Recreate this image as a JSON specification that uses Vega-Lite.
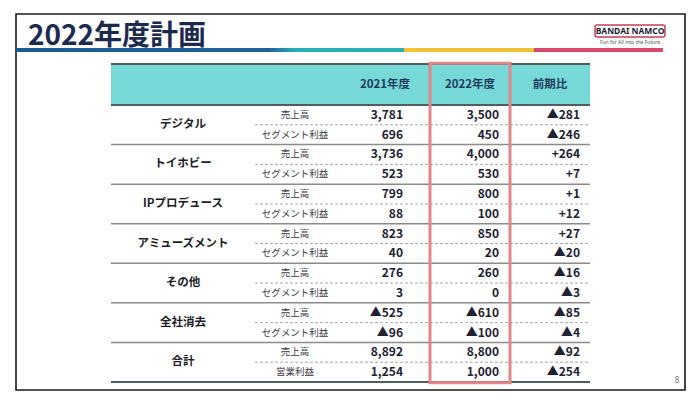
{
  "$schema": "https://vega.github.io/schema/vega-lite/v6.json",
  "width": 669,
  "height": 376,
  "padding": {"left": 16, "top": 14, "right": 15, "bottom": 15},
  "autosize": {"type": "none"},
  "background": "white",
  "config": {
    "view": {"stroke": "#1a1a1a", "strokeWidth": 1.6},
    "font": "Noto Sans CJK JP",
    "text": {"font": "Noto Sans CJK JP"}
  },
  "title": {
    "text": "2022年度計画",
    "anchor": "start",
    "frame": "group",
    "orient": "top",
    "offset": -59,
    "dx": 12,
    "fontSize": 28,
    "fontWeight": "bold",
    "color": "#1b2a4e",
    "font": "Noto Sans CJK JP",
    "baseline": "alphabetic"
  },
  "datasets": {
    "table": [
      {"row": 1, "segment": "デジタル", "item": "売上高", "fy2021": "3,781", "fy2022": "3,500", "yoy": "▲281"},
      {"row": 2, "segment": "デジタル", "item": "セグメント利益", "fy2021": "696", "fy2022": "450", "yoy": "▲246"},
      {"row": 3, "segment": "トイホビー", "item": "売上高", "fy2021": "3,736", "fy2022": "4,000", "yoy": "+264"},
      {"row": 4, "segment": "トイホビー", "item": "セグメント利益", "fy2021": "523", "fy2022": "530", "yoy": "+7"},
      {"row": 5, "segment": "IPプロデュース", "item": "売上高", "fy2021": "799", "fy2022": "800", "yoy": "+1"},
      {"row": 6, "segment": "IPプロデュース", "item": "セグメント利益", "fy2021": "88", "fy2022": "100", "yoy": "+12"},
      {"row": 7, "segment": "アミューズメント", "item": "売上高", "fy2021": "823", "fy2022": "850", "yoy": "+27"},
      {"row": 8, "segment": "アミューズメント", "item": "セグメント利益", "fy2021": "40", "fy2022": "20", "yoy": "▲20"},
      {"row": 9, "segment": "その他", "item": "売上高", "fy2021": "276", "fy2022": "260", "yoy": "▲16"},
      {"row": 10, "segment": "その他", "item": "セグメント利益", "fy2021": "3", "fy2022": "0", "yoy": "▲3"},
      {"row": 11, "segment": "全社消去", "item": "売上高", "fy2021": "▲525", "fy2022": "▲610", "yoy": "▲85"},
      {"row": 12, "segment": "全社消去", "item": "セグメント利益", "fy2021": "▲96", "fy2022": "▲100", "yoy": "▲4"},
      {"row": 13, "segment": "合計", "item": "売上高", "fy2021": "8,892", "fy2022": "8,800", "yoy": "▲92"},
      {"row": 14, "segment": "合計", "item": "営業利益", "fy2021": "1,254", "fy2022": "1,000", "yoy": "▲254"}
    ],
    "lines": [
      {"y": -0.5, "kind": "header"},
      {"y": 0.5, "kind": "header"},
      {"y": 1.5, "kind": "dash"},
      {"y": 2.5, "kind": "group"},
      {"y": 3.5, "kind": "dash"},
      {"y": 4.5, "kind": "group"},
      {"y": 5.5, "kind": "dash"},
      {"y": 6.5, "kind": "group"},
      {"y": 7.5, "kind": "dash"},
      {"y": 8.5, "kind": "group"},
      {"y": 9.5, "kind": "dash"},
      {"y": 10.5, "kind": "group"},
      {"y": 11.5, "kind": "dash"},
      {"y": 12.5, "kind": "group"},
      {"y": 13.5, "kind": "dash"},
      {"y": 14.5, "kind": "bottom"}
    ],
    "headers": [
      {"label": "2021年度", "col": 3.5},
      {"label": "2022年度", "col": 5.5},
      {"label": "前期比", "col": 6.5}
    ]
  },
  "data": {"name": "table"},
  "layer": [
    {
      "data": {"values": [{}]},
      "mark": {
        "type": "rect",
        "fill": {
          "gradient": "linear", "x1": 0, "y1": 0, "x2": 1, "y2": 0,
          "stops": [
            {"offset": 0, "color": "#1d5a92"},
            {"offset": 0.39, "color": "#1f6199"},
            {"offset": 0.43, "color": "#26adb5"},
            {"offset": 0.6, "color": "#29b0b6"},
            {"offset": 0.6, "color": "#f1c232"},
            {"offset": 0.8, "color": "#f1c232"},
            {"offset": 0.8, "color": "#d4496d"},
            {"offset": 1, "color": "#d4496d"}
          ]
        }
      },
      "encoding": {
        "x": {"datum": -1, "type": "quantitative", "axis": null, "scale": {"type": "linear", "domain": [-1, 0, 1, 2, 3, 4, 5, 6, 7, 8], "range": [0, 95, 239, 319, 341, 397, 414, 494, 574, 669], "nice": false, "zero": false}},
        "x2": {"datum": 7.768},
        "y": {"datum": -1.556, "type": "quantitative", "axis": null, "scale": {"type": "linear", "domain": [-2.5, -1.5, -0.5, 0.5, 14.5, 15.5], "range": [0, 36, 50, 91, 368, 376], "nice": false, "zero": false}},
        "y2": {"datum": -1.357}
      }
    },
    {
      "data": {"values": [{}]},
      "mark": {"type": "rect", "fill": "#76d8d7"},
      "encoding": {
        "x": {"datum": 0, "type": "quantitative"},
        "x2": {"datum": 7},
        "y": {"datum": -0.5, "type": "quantitative"},
        "y2": {"datum": 0.5}
      }
    },
    {
      "data": {"name": "lines"},
      "transform": [{"filter": "datum.kind == 'dash'"}],
      "mark": {"type": "rule", "stroke": "#a8a8a8", "strokeWidth": 1, "strokeDash": [3, 2]},
      "encoding": {
        "x": {"datum": 1, "type": "quantitative"},
        "x2": {"datum": 7},
        "y": {"field": "y", "type": "quantitative"}
      }
    },
    {
      "data": {"name": "lines"},
      "transform": [{"filter": "datum.kind == 'group'"}],
      "mark": {"type": "rule", "stroke": "#8c8c8c", "strokeWidth": 1.5},
      "encoding": {
        "x": {"datum": 0, "type": "quantitative"},
        "x2": {"datum": 7},
        "y": {"field": "y", "type": "quantitative"}
      }
    },
    {
      "data": {"name": "lines"},
      "transform": [{"filter": "datum.kind == 'header' || datum.kind == 'bottom'"}],
      "mark": {"type": "rule", "stroke": "#4f5d5d", "strokeWidth": 2},
      "encoding": {
        "x": {"datum": 0, "type": "quantitative"},
        "x2": {"datum": 7},
        "y": {"field": "y", "type": "quantitative"}
      }
    },
    {
      "data": {"name": "headers"},
      "mark": {"type": "text", "fontSize": 11.5, "fontWeight": "bold", "color": "#1f3a5c", "baseline": "middle", "align": "center"},
      "encoding": {
        "x": {"field": "col", "type": "quantitative"},
        "y": {"datum": 0, "type": "quantitative"},
        "text": {"field": "label"}
      }
    },
    {
      "transform": [{"filter": "datum.row % 2 == 1"}],
      "mark": {"type": "text", "fontSize": 11.5, "fontWeight": "bold", "color": "#1c1c28", "baseline": "middle", "align": "center", "dy": 9.9},
      "encoding": {
        "x": {"datum": 0.5, "type": "quantitative"},
        "y": {"field": "row", "type": "quantitative"},
        "text": {"field": "segment"}
      }
    },
    {
      "mark": {"type": "text", "fontSize": 9.5, "color": "#3a3a44", "baseline": "middle", "align": "center"},
      "encoding": {
        "x": {"datum": 1.5, "type": "quantitative"},
        "y": {"field": "row", "type": "quantitative"},
        "text": {"field": "item"}
      }
    },
    {
      "mark": {"type": "text", "fontSize": 12, "fontWeight": "bold", "color": "#1e2233", "baseline": "middle", "align": "right", "dx": -10},
      "encoding": {
        "x": {"datum": 4, "type": "quantitative"},
        "y": {"field": "row", "type": "quantitative"},
        "text": {"field": "fy2021"}
      }
    },
    {
      "mark": {"type": "text", "fontSize": 12, "fontWeight": "bold", "color": "#1e2233", "baseline": "middle", "align": "right", "dx": -11},
      "encoding": {
        "x": {"datum": 6, "type": "quantitative"},
        "y": {"field": "row", "type": "quantitative"},
        "text": {"field": "fy2022"}
      }
    },
    {
      "mark": {"type": "text", "fontSize": 12, "fontWeight": "bold", "color": "#1e2233", "baseline": "middle", "align": "right", "dx": -10},
      "encoding": {
        "x": {"datum": 7, "type": "quantitative"},
        "y": {"field": "row", "type": "quantitative"},
        "text": {"field": "yoy"}
      }
    },
    {
      "data": {"values": [{}]},
      "mark": {"type": "rect", "fill": null, "fillOpacity": 0, "stroke": "#e38689", "strokeWidth": 3},
      "encoding": {
        "x": {"datum": 5, "type": "quantitative"},
        "x2": {"datum": 6},
        "y": {"datum": -0.55, "type": "quantitative"},
        "y2": {"datum": 14.6}
      }
    },
    {
      "data": {"values": [{}]},
      "mark": {"type": "rect", "fill": "white", "stroke": "#c93c55", "strokeWidth": 1.5, "cornerRadius": 2},
      "encoding": {
        "x": {"datum": 7.053, "type": "quantitative"},
        "x2": {"datum": 7.789},
        "y": {"datum": -2.194, "type": "quantitative"},
        "y2": {"datum": -1.861}
      }
    },
    {
      "data": {"values": [{"logo": "BANDAI NAMCO", "tag": "Fun for All into the Future"}]},
      "mark": {"type": "text", "fontSize": 8.5, "fontWeight": "bold", "color": "#1d1f33", "baseline": "middle", "align": "center", "font": "Noto Sans"},
      "encoding": {
        "x": {"datum": 7.421, "type": "quantitative"},
        "y": {"datum": -2.028, "type": "quantitative"},
        "text": {"field": "logo"}
      }
    },
    {
      "data": {"values": [{"logo": "BANDAI NAMCO", "tag": "Fun for All into the Future"}]},
      "mark": {"type": "text", "fontSize": 5, "color": "#555555", "baseline": "middle", "align": "center", "font": "Noto Sans"},
      "encoding": {
        "x": {"datum": 7.421, "type": "quantitative"},
        "y": {"datum": -1.722, "type": "quantitative"},
        "text": {"field": "tag"}
      }
    },
    {
      "data": {"values": [{"page": "8"}]},
      "mark": {"type": "text", "fontSize": 8, "color": "#777777", "baseline": "middle", "align": "center", "font": "Noto Sans"},
      "encoding": {
        "x": {"datum": 7.916, "type": "quantitative"},
        "y": {"datum": 14.45, "type": "quantitative"},
        "text": {"field": "page"}
      }
    }
  ]
}
